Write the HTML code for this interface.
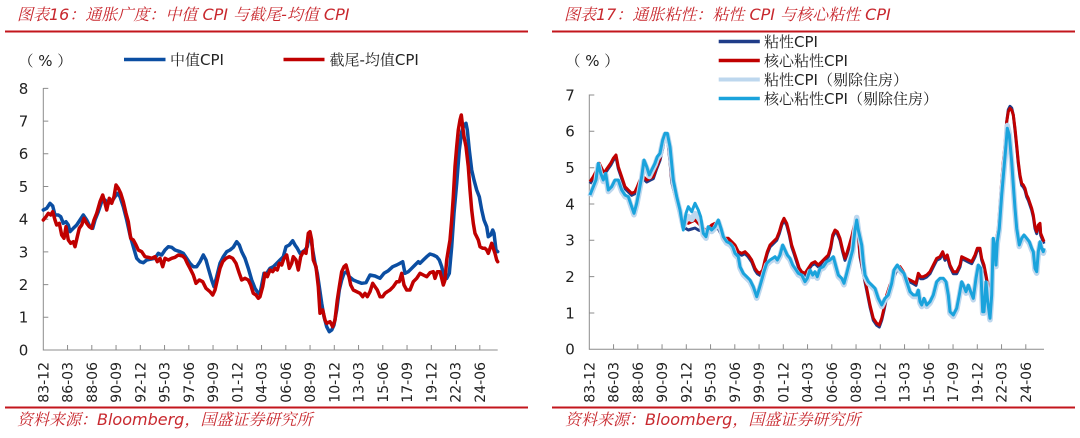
<!DOCTYPE html>
<html>
<head>
<meta charset="utf-8">
<style>
  html,body{margin:0;padding:0;background:#fff;}
  svg{display:block;}
  .title{font-family:"DejaVu Sans","Noto Serif CJK SC","Noto Sans CJK SC",serif;font-style:italic;font-size:16px;fill:#C8282E;}
  .src{font-family:"DejaVu Sans","Noto Serif CJK SC","Noto Sans CJK SC",serif;font-style:italic;font-size:16px;fill:#C8282E;}
  .ylab{font-family:"DejaVu Sans",sans-serif;font-size:15px;fill:#222;}
  .xlab{font-family:"DejaVu Sans",sans-serif;font-size:14px;fill:#222;}
  .leg{font-family:"DejaVu Sans","Noto Serif CJK SC","Noto Sans CJK SC",serif;font-size:15px;fill:#222;}
</style>
</head>
<body>
<svg width="1080" height="438" viewBox="0 0 1080 438" xmlns="http://www.w3.org/2000/svg">
  <rect width="1080" height="438" fill="#fff"/>

  <!-- Titles -->
  <text class="title" x="17" y="20">图表16：通胀广度：中值 CPI 与截尾-均值 CPI</text>
  <text class="title" x="564" y="20">图表17：通胀粘性：粘性 CPI 与核心粘性 CPI</text>
  <line x1="5" y1="31.5" x2="528" y2="31.5" stroke="#C3161C" stroke-width="2"/>
  <line x1="552" y1="31.5" x2="1075" y2="31.5" stroke="#C3161C" stroke-width="2"/>

  <!-- Bottom source -->
  <line x1="5" y1="407.5" x2="528" y2="407.5" stroke="#C3161C" stroke-width="2"/>
  <line x1="552" y1="407.5" x2="1075" y2="407.5" stroke="#C3161C" stroke-width="2"/>
  <text class="src" x="17" y="425">资料来源：Bloomberg，国盛证券研究所</text>
  <text class="src" x="565" y="425">资料来源：Bloomberg，国盛证券研究所</text>

  <!-- ============ LEFT CHART ============ -->
  <text class="leg" x="18.5" y="66">（ % ）</text>
  <line x1="124" y1="59.5" x2="165.5" y2="59.5" stroke="#0B4EA2" stroke-width="3.5"/>
  <text class="leg" x="170" y="65">中值CPI</text>
  <line x1="283.5" y1="59.5" x2="324.5" y2="59.5" stroke="#C00000" stroke-width="3.5"/>
  <text class="leg" x="329.5" y="65">截尾-均值CPI</text>

  <g stroke="#8C8C8C" stroke-width="1" fill="none">
    <line x1="43.3" y1="88" x2="43.3" y2="350.5"/>
    <line x1="43.3" y1="350" x2="497.7" y2="350"/>
    <path d="M43.3 317.3h5M43.3 284.6h5M43.3 251.9h5M43.3 219.2h5M43.3 186.5h5M43.3 153.8h5M43.3 121.1h5M43.3 88.4h5"/>
    <path d="M67.55 350v-5M91.8 350v-5M116.05 350v-5M140.3 350v-5M164.55 350v-5M188.8 350v-5M213.05 350v-5M237.3 350v-5M261.55 350v-5M285.8 350v-5M310.05 350v-5M334.3 350v-5M358.55 350v-5M382.8 350v-5M407.05 350v-5M431.3 350v-5M455.55 350v-5M479.8 350v-5"/>
  </g>
  <g class="ylab" text-anchor="middle">
    <text x="23.5" y="355.4">0</text>
    <text x="23.5" y="322.7">1</text>
    <text x="23.5" y="290">2</text>
    <text x="23.5" y="257.3">3</text>
    <text x="23.5" y="224.6">4</text>
    <text x="23.5" y="191.9">5</text>
    <text x="23.5" y="159.2">6</text>
    <text x="23.5" y="126.5">7</text>
    <text x="23.5" y="93.8">8</text>
  </g>
  <g class="xlab" text-anchor="end">
    <text transform="translate(43.3,362) rotate(-90)" dy="0.36em">83-12</text>
    <text transform="translate(67.55,362) rotate(-90)" dy="0.36em">86-03</text>
    <text transform="translate(91.8,362) rotate(-90)" dy="0.36em">88-06</text>
    <text transform="translate(116.05,362) rotate(-90)" dy="0.36em">90-09</text>
    <text transform="translate(140.3,362) rotate(-90)" dy="0.36em">92-12</text>
    <text transform="translate(164.55,362) rotate(-90)" dy="0.36em">95-03</text>
    <text transform="translate(188.8,362) rotate(-90)" dy="0.36em">97-06</text>
    <text transform="translate(213.05,362) rotate(-90)" dy="0.36em">99-09</text>
    <text transform="translate(237.3,362) rotate(-90)" dy="0.36em">01-12</text>
    <text transform="translate(261.55,362) rotate(-90)" dy="0.36em">04-03</text>
    <text transform="translate(285.8,362) rotate(-90)" dy="0.36em">06-06</text>
    <text transform="translate(310.05,362) rotate(-90)" dy="0.36em">08-09</text>
    <text transform="translate(334.3,362) rotate(-90)" dy="0.36em">10-12</text>
    <text transform="translate(358.55,362) rotate(-90)" dy="0.36em">13-03</text>
    <text transform="translate(382.8,362) rotate(-90)" dy="0.36em">15-06</text>
    <text transform="translate(407.05,362) rotate(-90)" dy="0.36em">17-09</text>
    <text transform="translate(431.3,362) rotate(-90)" dy="0.36em">19-12</text>
    <text transform="translate(455.55,362) rotate(-90)" dy="0.36em">22-03</text>
    <text transform="translate(479.8,362) rotate(-90)" dy="0.36em">24-06</text>
  </g>

  <!-- Median CPI (blue) -->
  <polyline fill="none" stroke="#0B4EA2" stroke-width="3.5" stroke-linejoin="round" stroke-linecap="round" points="43.3,210 46.7,208.3 50,203.3 52.7,206 55,215 58.3,215 60.7,216.7 63.3,223.3 66,221.7 68.3,225 70,231.7 73.3,228.3 76.7,225 80,220 83.3,215 86.7,220 90,226.7 92.7,228.3 95,220 98.3,211.7 101.7,201.7 105,200 108.3,203.3 111.7,201.7 115,196.7 117.3,193.3 120,196.7 123.3,206.7 126.7,220 130,235 133.3,246.7 136.7,258.3 140,261.7 143.3,262.7 146.7,260 150,259.3 155,258.3 158.3,253.3 161.7,255 165,250 168.3,246.7 171.7,247.3 175,250 180,251.7 183.3,253.3 186.7,258.3 190,263.3 193.3,266.7 196.7,266.7 200,261.7 203.3,255 206,260 208.3,268.3 211.7,280 214,286.7 216.7,276.7 220,263.3 223.3,256.7 226.7,251.7 230,250 233.3,247.3 236.7,241.7 239.3,245 241.7,251.7 245,258.3 248.3,268.3 251.7,280 255,288.3 258.3,293.3 260,293.3 261.7,285 264,273.3 266.7,273.3 270,268.3 273.3,266.7 276.7,263.3 280,260 283.3,256.7 286,246.7 289.3,245 292.7,240.7 295,245 297.3,248.3 300,253.3 302.7,251.7 305,250 307.3,246.7 309.3,233.3 310.7,236.7 312.7,250 315,263.3 317.3,273.3 319.3,286.7 321.7,303.3 324,316.7 326.7,326.7 329.3,331.7 331.7,330 334,325 336.7,310 339.3,290 341.7,280 344,273.3 346.7,271.7 349.3,276.7 353.3,280 357.3,281.7 361.7,283.3 366,282.7 370,275 375,276 380,278.3 384,273.3 388.3,270.7 392.7,266.7 396.7,265 400,263.3 402.7,261.7 405,273.3 408.3,271.7 411.7,268.3 415,265 418.3,261.7 420,263.3 423.3,260 426.7,256.7 430,254 433.3,255 436.7,256.7 439.3,260 441.7,266.7 444,276.7 446.7,278.3 449.3,273.3 451.7,246.7 454,213.3 456.7,183.3 459.3,150 461.7,131.7 464,125 466,123.3 467.3,130 469.3,150 471.7,170 474,180 476.7,190 479.3,196.7 481.7,210 484,220 486.7,226.7 488.3,236.7 490.7,235 492.7,230 494,233.3 496,250 497.7,251.7"/>

  <!-- Trimmed mean CPI (red) -->
  <polyline fill="none" stroke="#C00000" stroke-width="3.5" stroke-linejoin="round" stroke-linecap="round" points="43.3,220 46,216.7 48.3,213.3 50.7,215 52.7,211.7 55,220 56.7,225 59.3,223.3 61.7,235 64,238.3 66,226.7 68.3,240 70.7,243.3 73.3,241.7 75,246.7 77.3,236.7 79.3,228.3 81.7,225 84,218.3 86.7,223.3 89.3,226.7 91.7,228.3 94,220 96.7,213.3 100,201.7 102.7,195 105,203.3 106.7,210 109.3,198.3 111.7,203.3 114,196.7 116,185 118.3,188.3 120.7,193.3 123.3,201.7 126,213.3 128.3,221.7 130.7,238.3 133.3,240 136,245 138.3,250 141.7,251.7 145,256.7 148.3,257.3 151.7,258.3 155,256.7 157.3,261.7 160,258.3 162.7,266.7 165,258.3 168.3,260 171.7,258.3 175,257.3 178.3,255 182.7,256 185,258.3 187.3,263.3 190,268.3 193.3,275 196,283.3 199.3,280 202.7,281.7 206,288.3 210,291.7 212.7,295 215,290 217.3,280 220,268.3 222.7,261.7 226,258.3 229.3,256.7 232.7,258.3 236,263.3 239.3,273.3 241.7,280 245,278.3 248.3,280 250.7,285 253.3,293.3 256,295 258.3,298.3 260,296.7 262.7,286.7 265,273.3 267.3,276.7 270,270 272.7,271.7 275,268.3 277.3,270 279.3,263.3 281.7,265 284,258.3 286.7,255 289.3,268.3 291.7,263.3 293.3,256.7 296,260 298.3,270 300.7,256.7 303.3,251.7 306,253.3 308.3,233.3 310,231.7 311.7,240 313.3,260 316,266.7 318.3,286.7 320,313.3 322.7,310 325,320 326.7,323.3 330,321.7 332.7,326.7 335,320 337.3,300 339.3,286.7 341.7,271.7 344,266.7 346,265 348.3,273.3 350.7,285 353.3,290 356.7,291.7 360,293.3 362.7,296.7 365,293.3 367.3,296.7 370,291.7 372.7,283.3 375,286.7 377.3,290 380,296.7 382.7,296.7 385,293.3 387.3,291.7 390,290 393.3,286.7 396.7,281.7 399.3,281.7 401.7,273.3 404,285 406.7,290 410,290 413.3,281.7 416.7,278.3 420,273.3 423.3,275 426.7,276.7 430,272.7 433.3,271.7 435,278.3 437.3,271.7 440,271.7 441.7,278.3 443.3,285 445,280 446.7,260 448.3,250 450,240 451.7,220 453.3,196.7 455,166.7 456.7,146.7 458.3,130 460,120 461.3,115 462.7,126.7 464,136.7 466,146.7 468.3,166.7 470,190 471.7,210 473.3,223.3 475,233.3 476.7,236.7 478.3,240 480,246.7 482.7,248.3 485,248.3 486.7,250 488.3,253.3 490,248.3 491.7,243.3 493.3,248.3 495,253.3 496.7,260 497.7,261.7"/>

  <!-- ============ RIGHT CHART ============ -->
  <text class="leg" x="565.5" y="66">（ % ）</text>
  <line x1="718.7" y1="41.5" x2="759.8" y2="41.5" stroke="#1F3C88" stroke-width="3.5"/>
  <text class="leg" x="764" y="47">粘性CPI</text>
  <line x1="718.7" y1="60.5" x2="759.8" y2="60.5" stroke="#C00000" stroke-width="3.5"/>
  <text class="leg" x="764" y="66">核心粘性CPI</text>
  <line x1="718.7" y1="79.5" x2="759.8" y2="79.5" stroke="#BDD7EE" stroke-width="4"/>
  <text class="leg" x="764" y="85">粘性CPI（剔除住房）</text>
  <line x1="718.7" y1="98.5" x2="759.8" y2="98.5" stroke="#1AA3DC" stroke-width="3.5"/>
  <text class="leg" x="764" y="104">核心粘性CPI（剔除住房）</text>

  <g stroke="#8C8C8C" stroke-width="1" fill="none">
    <line x1="589.3" y1="94.5" x2="589.3" y2="349.8"/>
    <line x1="589.3" y1="349.3" x2="1044" y2="349.3"/>
    <path d="M589.3 313h5M589.3 276.6h5M589.3 240.3h5M589.3 204h5M589.3 167.7h5M589.3 131.3h5M589.3 95h5"/>
    <path d="M613.55 349.3v-5M637.8 349.3v-5M662.05 349.3v-5M686.3 349.3v-5M710.55 349.3v-5M734.8 349.3v-5M759.05 349.3v-5M783.3 349.3v-5M807.55 349.3v-5M831.8 349.3v-5M856.05 349.3v-5M880.3 349.3v-5M904.55 349.3v-5M928.8 349.3v-5M953.05 349.3v-5M977.3 349.3v-5M1001.55 349.3v-5M1025.8 349.3v-5"/>
  </g>
  <g class="ylab" text-anchor="middle">
    <text x="570" y="354.7">0</text>
    <text x="570" y="318.4">1</text>
    <text x="570" y="282">2</text>
    <text x="570" y="245.7">3</text>
    <text x="570" y="209.4">4</text>
    <text x="570" y="173.1">5</text>
    <text x="570" y="136.7">6</text>
    <text x="570" y="100.4">7</text>
  </g>
  <g class="xlab" text-anchor="end">
    <text transform="translate(589.3,362) rotate(-90)" dy="0.36em">83-12</text>
    <text transform="translate(613.55,362) rotate(-90)" dy="0.36em">86-03</text>
    <text transform="translate(637.8,362) rotate(-90)" dy="0.36em">88-06</text>
    <text transform="translate(662.05,362) rotate(-90)" dy="0.36em">90-09</text>
    <text transform="translate(686.3,362) rotate(-90)" dy="0.36em">92-12</text>
    <text transform="translate(710.55,362) rotate(-90)" dy="0.36em">95-03</text>
    <text transform="translate(734.8,362) rotate(-90)" dy="0.36em">97-06</text>
    <text transform="translate(759.05,362) rotate(-90)" dy="0.36em">99-09</text>
    <text transform="translate(783.3,362) rotate(-90)" dy="0.36em">01-12</text>
    <text transform="translate(807.55,362) rotate(-90)" dy="0.36em">04-03</text>
    <text transform="translate(831.8,362) rotate(-90)" dy="0.36em">06-06</text>
    <text transform="translate(856.05,362) rotate(-90)" dy="0.36em">08-09</text>
    <text transform="translate(880.3,362) rotate(-90)" dy="0.36em">10-12</text>
    <text transform="translate(904.55,362) rotate(-90)" dy="0.36em">13-03</text>
    <text transform="translate(928.8,362) rotate(-90)" dy="0.36em">15-06</text>
    <text transform="translate(953.05,362) rotate(-90)" dy="0.36em">17-09</text>
    <text transform="translate(977.3,362) rotate(-90)" dy="0.36em">19-12</text>
    <text transform="translate(1001.55,362) rotate(-90)" dy="0.36em">22-03</text>
    <text transform="translate(1025.8,362) rotate(-90)" dy="0.36em">24-06</text>
  </g>

  <!-- Sticky CPI (dark blue) -->
  <polyline transform="translate(0,2)" fill="none" stroke="#1F3C88" stroke-width="3" stroke-linejoin="round" points="590,181.7 593.3,176.7 596.7,170 599.3,163.3 601.7,168.3 604,173.3 606,170 608.3,166.7 610.7,163.3 613.3,158.3 616,155 618.3,166.7 621.7,176.7 625,186.7 628.3,190 631.7,193.3 635,191.7 637.3,186.7 640,180 643.3,176.7 646.7,180 650,178.3 653.3,176.7 656.7,166.7 660,158.3 662.7,146.7 665,133.3 667.3,135 670,160 671.7,180 675,193.3 678.3,206.7 681.7,220 685,226 688.3,228 691.7,227 695,226 698.3,228 701.7,229 705,231 708.3,228.3 711.7,225 715,223.3 718.3,226.7 721.7,233.3 725,238.3 728.3,238.3 731.7,241.7 735,245 738.3,251.7 741.7,253.3 745,251.7 748.3,255 751.7,260 755,268.3 757.3,271.7 760,273.3 762.7,270 765,260 767.3,251.7 770,245 773.3,241.7 776.7,238.3 779.3,231.7 781.7,223.3 784,218.3 786.7,223.3 789.3,233.3 791.7,245 794,251.7 796.7,260 799.3,268.3 801.7,271.7 805,273.3 808.3,268.3 811.7,263.3 815,261.7 818.3,265 821.7,261.7 825,258.3 828.3,255 830.7,246.7 832.7,235 835,230 837.3,231.7 840,238.3 842.7,250 845,258.3 847.3,251.7 849.3,245 851.7,236.7 854,226.7 856,221.7 858.3,233.3 860,255 863.3,271.7 866.7,288.3 870,305 873.3,318.3 876.7,323.3 879.3,325 881.7,318.3 884,308.3 886.7,295 890,285 893.3,276.7 896.7,268.3 900,266.7 903.3,271.7 906.7,278.3 910,280 913.3,281.7 916,283.3 918.3,273.3 920.7,276.7 923.3,276.7 926.7,275 930,271.7 933.3,265 936.7,258.3 940,256.7 942.7,251.7 945,258.3 947.3,255 950,265 953.3,271.7 956.7,271.7 960,265 961.7,256.7 965,258.3 968.3,260 971.7,261.7 975,255 977.3,248.3 980,248.3 981.7,258.3 984,265 986,275 988.3,288.3 990,288.3 991.7,275 993.3,248.3 995,241.7 996.7,238.3 998.3,228.3 1000,205 1001.7,181.7 1003.3,161.7 1005,145 1006.7,119.7 1008.3,107.7 1010,104.3 1011.7,106 1013.3,113 1015,128.3 1016.7,145 1018.3,161.7 1020,175 1021.7,183.3 1023.3,185 1025,188.3 1026.7,195 1028.3,198.3 1030,203.3 1031.7,208.3 1033.3,215 1035,226.7 1036.7,231.7 1038.3,225 1040,223.3 1040.7,233.3 1042.7,238.3 1044,241.7"/>

  <!-- Core sticky CPI (red) -->
  <polyline fill="none" stroke="#C00000" stroke-width="3" stroke-linejoin="round" points="590,181.7 593.3,176.7 596.7,170 599.3,163.3 601.7,168.3 604,173.3 606,170 608.3,166.7 610.7,163.3 613.3,158.3 616,155 618.3,166.7 621.7,176.7 625,186.7 628.3,190 631.7,193.3 635,191.7 637.3,186.7 640,180 643.3,176.7 646.7,180 650,178.3 653.3,176.7 656.7,166.7 660,158.3 662.7,146.7 665,133.3 667.3,135 670,160 671.7,180 675,193.3 678.3,206.7 681.7,216.7 685,220 688.3,223.3 691.7,221.7 695,220 698.3,223.3 701.7,226.7 705,230 708.3,228.3 711.7,225 715,223.3 718.3,226.7 721.7,233.3 725,238.3 728.3,238.3 731.7,241.7 735,245 738.3,251.7 741.7,253.3 745,251.7 748.3,255 751.7,260 755,268.3 757.3,271.7 760,273.3 762.7,270 765,260 767.3,251.7 770,245 773.3,241.7 776.7,238.3 779.3,231.7 781.7,223.3 784,218.3 786.7,223.3 789.3,233.3 791.7,245 794,251.7 796.7,260 799.3,268.3 801.7,271.7 805,273.3 808.3,268.3 811.7,263.3 815,261.7 818.3,265 821.7,261.7 825,258.3 828.3,255 830.7,246.7 832.7,235 835,230 837.3,231.7 840,238.3 842.7,250 845,258.3 847.3,251.7 849.3,245 851.7,236.7 854,226.7 856,221.7 858.3,233.3 860,255 863.3,271.7 866.7,288.3 870,305 873.3,318.3 876.7,323.3 879.3,325 881.7,318.3 884,308.3 886.7,295 890,285 893.3,276.7 896.7,268.3 900,266.7 903.3,271.7 906.7,278.3 910,280 913.3,281.7 916,283.3 918.3,273.3 920.7,276.7 923.3,276.7 926.7,275 930,271.7 933.3,265 936.7,258.3 940,256.7 942.7,251.7 945,258.3 947.3,255 950,265 953.3,271.7 956.7,271.7 960,265 961.7,256.7 965,258.3 968.3,260 971.7,261.7 975,255 977.3,248.3 980,248.3 981.7,258.3 984,265 986,275 988.3,288.3 990,288.3 991.7,275 993.3,248.3 995,241.7 996.7,238.3 998.3,228.3 1000,205 1001.7,181.7 1003.3,161.7 1005,145 1006.7,121.7 1008.3,111.7 1010,108.3 1011.7,110 1013.3,115 1015,128.3 1016.7,145 1018.3,161.7 1020,175 1021.7,183.3 1023.3,185 1025,188.3 1026.7,195 1028.3,198.3 1030,203.3 1031.7,208.3 1033.3,215 1035,226.7 1036.7,231.7 1038.3,225 1040,223.3 1040.7,233.3 1042.7,238.3 1044,241.7"/>

  <!-- Sticky CPI ex shelter (light blue) -->
  <polyline transform="translate(0,1.5)" fill="none" stroke="#BDD7EE" stroke-width="5.5" stroke-linejoin="round" points="590,195 593.3,186.7 596,180 598.3,163.3 600.7,173.3 603.3,180 605.7,173.3 608.3,190 611.7,186.7 615,180 618.3,180 621.7,190 625,195 628.3,196.7 631.7,206.7 634,213.3 636.7,203.3 639.3,190 641.7,176.7 644,160 646.7,166.7 649.3,175 651.7,170 655,163.3 657.3,156.7 660,153.3 662.7,140 665,133.3 667.3,133.3 670,146.7 673.3,180 676.7,196.7 680,210 683.3,225 686,218 688.3,215 691.7,218 695,212 698.3,216 700.7,220 703.3,233.3 706,236.7 708.3,226.7 711.7,230 715,226.7 718.3,220 721,228.3 723.3,236.7 726.7,241.7 730,243.3 732.7,246.7 735,253.3 738.3,256.7 740,266.7 743.3,273.3 746.7,276.7 750,280 753.3,286.7 756.7,296.7 759.3,288.3 761.7,280 764,271.7 766.7,263.3 770,260 772.7,258.3 775,256.7 777.3,260 780,255 782.7,245 785,250 787.3,255 790,258.3 792.7,265 795,268.3 798.3,273.3 801.7,275 805,281.7 807.3,278.3 810,270 812.7,275 815,271.7 817.3,276.7 820,268.3 823.3,266.7 826.7,261.7 830,260 833.3,256.7 836,266.7 838.3,275 841.7,278.3 844,283.3 846.7,273.3 850,260 852.7,250 855,228 856.7,216 858.3,228 861.7,245 863.3,261.7 865,275 868.3,281.7 871.7,285 875,288.3 878.3,298.3 881.7,305 885,298.3 888.3,295 891.7,283.3 894,270 897.3,265 900.7,270 904,273.3 906.7,281.7 910,291.7 913.3,295 916.7,295 918.3,290 920,301.7 921.7,305 924,298.3 926.7,305 930,301.7 933.3,295 936.7,281.7 940,278.3 943.3,278.3 946,281.7 948.3,295 950,311.7 953.3,315 956.7,308.3 959.3,295 961.7,281.7 963.3,285 966,291.7 968.3,285 970.7,291.7 973.3,298.3 976,278.3 978.3,265 980.7,268.3 982.7,311.7 984,311.7 986,281.7 987.7,301.7 990,318.3 991.7,295 993.3,238.3 995,248.3 996,265 997.3,241.7 999.3,228.3 1001.7,195 1004,168.3 1006,145 1007.3,124 1009.3,132 1011.7,161.7 1013.3,185 1015,208.3 1016.7,228.3 1019.3,245 1021.7,238.3 1024,235 1026.7,238.3 1029.3,241.7 1031.7,248.3 1033.3,251.7 1035,268.3 1036.7,271.7 1038.3,251.7 1040,241.7 1041.7,248.3 1043.3,251.7 1044.3,248.3"/>

  <!-- Core sticky CPI ex shelter (medium blue) -->
  <polyline fill="none" stroke="#1AA3DC" stroke-width="3" stroke-linejoin="round" points="590,195 593.3,186.7 596,180 598.3,163.3 600.7,173.3 603.3,180 605.7,173.3 608.3,190 611.7,186.7 615,180 618.3,180 621.7,190 625,195 628.3,196.7 631.7,206.7 634,213.3 636.7,203.3 639.3,190 641.7,176.7 644,160 646.7,166.7 649.3,175 651.7,170 655,163.3 657.3,156.7 660,153.3 662.7,140 665,133.3 667.3,133.3 670,146.7 673.3,180 676.7,196.7 680,210 683.3,230 686,213.3 688.3,206.7 691.7,211.7 695,203.3 698.3,210 700.7,216.7 703.3,233.3 706,236.7 708.3,226.7 711.7,230 715,226.7 718.3,220 721,228.3 723.3,236.7 726.7,241.7 730,243.3 732.7,246.7 735,253.3 738.3,256.7 740,266.7 743.3,273.3 746.7,276.7 750,280 753.3,286.7 756.7,296.7 759.3,288.3 761.7,280 764,271.7 766.7,263.3 770,260 772.7,258.3 775,256.7 777.3,260 780,255 782.7,245 785,250 787.3,255 790,258.3 792.7,265 795,268.3 798.3,273.3 801.7,275 805,281.7 807.3,278.3 810,270 812.7,275 815,271.7 817.3,276.7 820,268.3 823.3,266.7 826.7,261.7 830,260 833.3,256.7 836,266.7 838.3,275 841.7,278.3 844,283.3 846.7,273.3 850,260 852.7,250 855,230 856.7,220 858.3,230 861.7,245 863.3,261.7 865,275 868.3,281.7 871.7,285 875,288.3 878.3,298.3 881.7,305 885,298.3 888.3,295 891.7,283.3 894,270 897.3,265 900.7,270 904,273.3 906.7,281.7 910,291.7 913.3,295 916.7,295 918.3,290 920,301.7 921.7,305 924,298.3 926.7,305 930,301.7 933.3,295 936.7,281.7 940,278.3 943.3,278.3 946,281.7 948.3,295 950,311.7 953.3,315 956.7,308.3 959.3,295 961.7,281.7 963.3,285 966,291.7 968.3,285 970.7,291.7 973.3,298.3 976,278.3 978.3,265 980.7,268.3 982.7,311.7 984,311.7 986,281.7 987.7,301.7 990,318.3 991.7,295 993.3,238.3 995,248.3 996,265 997.3,241.7 999.3,228.3 1001.7,195 1004,168.3 1006,145 1007.3,128.3 1009.3,135 1011.7,161.7 1013.3,185 1015,208.3 1016.7,228.3 1019.3,245 1021.7,238.3 1024,235 1026.7,238.3 1029.3,241.7 1031.7,248.3 1033.3,251.7 1035,268.3 1036.7,271.7 1038.3,251.7 1040,241.7 1041.7,248.3 1043.3,251.7 1044.3,248.3"/>
</svg>
</body>
</html>
